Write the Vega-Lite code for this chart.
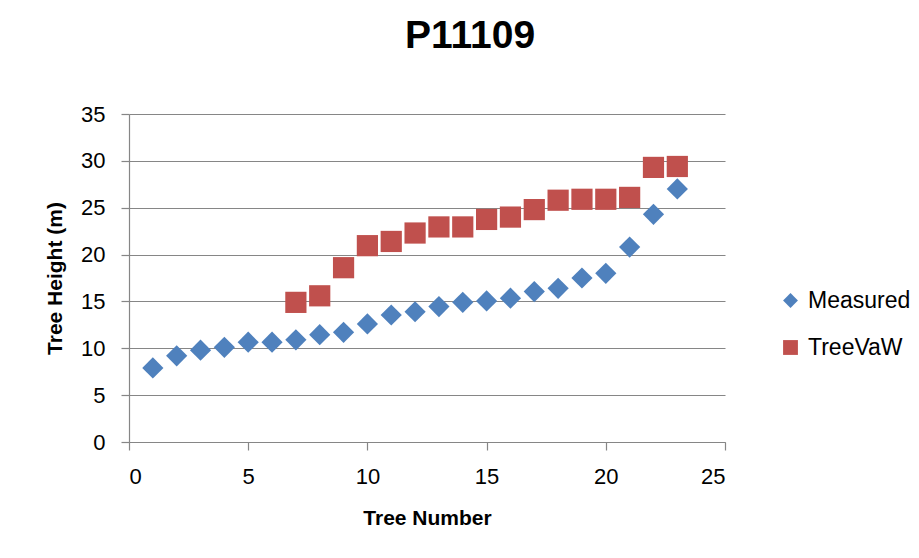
{
  "$schema": "https://vega.github.io/schema/vega-lite/v6.json",
  "width": 596,
  "height": 328,
  "autosize": {"type": "none"},
  "padding": {"left": 129, "top": 114, "right": 194, "bottom": 116},
  "background": "white",
  "title": {
    "text": "P11109",
    "font": "Liberation Sans",
    "fontSize": 39,
    "fontWeight": "bold",
    "color": "#000000",
    "anchor": "middle",
    "frame": "group",
    "offset": 47,
    "dx": 43
  },
  "data": {
    "values": [
      {"n": 1, "h": 7.9, "series": "Measured"},
      {"n": 2, "h": 9.2, "series": "Measured"},
      {"n": 3, "h": 9.8, "series": "Measured"},
      {"n": 4, "h": 10.1, "series": "Measured"},
      {"n": 5, "h": 10.65, "series": "Measured"},
      {"n": 6, "h": 10.65, "series": "Measured"},
      {"n": 7, "h": 10.9, "series": "Measured"},
      {"n": 8, "h": 11.45, "series": "Measured"},
      {"n": 9, "h": 11.7, "series": "Measured"},
      {"n": 10, "h": 12.6, "series": "Measured"},
      {"n": 11, "h": 13.55, "series": "Measured"},
      {"n": 12, "h": 13.9, "series": "Measured"},
      {"n": 13, "h": 14.45, "series": "Measured"},
      {"n": 14, "h": 14.9, "series": "Measured"},
      {"n": 15, "h": 15.05, "series": "Measured"},
      {"n": 16, "h": 15.35, "series": "Measured"},
      {"n": 17, "h": 16.05, "series": "Measured"},
      {"n": 18, "h": 16.4, "series": "Measured"},
      {"n": 19, "h": 17.5, "series": "Measured"},
      {"n": 20, "h": 18.0, "series": "Measured"},
      {"n": 21, "h": 20.8, "series": "Measured"},
      {"n": 22, "h": 24.3, "series": "Measured"},
      {"n": 23, "h": 27.0, "series": "Measured"},
      {"n": 7, "h": 14.9, "series": "TreeVaW"},
      {"n": 8, "h": 15.6, "series": "TreeVaW"},
      {"n": 9, "h": 18.6, "series": "TreeVaW"},
      {"n": 10, "h": 20.95, "series": "TreeVaW"},
      {"n": 11, "h": 21.4, "series": "TreeVaW"},
      {"n": 12, "h": 22.3, "series": "TreeVaW"},
      {"n": 13, "h": 22.95, "series": "TreeVaW"},
      {"n": 14, "h": 22.95, "series": "TreeVaW"},
      {"n": 15, "h": 23.75, "series": "TreeVaW"},
      {"n": 16, "h": 24.0, "series": "TreeVaW"},
      {"n": 17, "h": 24.8, "series": "TreeVaW"},
      {"n": 18, "h": 25.8, "series": "TreeVaW"},
      {"n": 19, "h": 25.9, "series": "TreeVaW"},
      {"n": 20, "h": 25.9, "series": "TreeVaW"},
      {"n": 21, "h": 26.1, "series": "TreeVaW"},
      {"n": 22, "h": 29.3, "series": "TreeVaW"},
      {"n": 23, "h": 29.4, "series": "TreeVaW"}
    ]
  },
  "mark": {"type": "point", "filled": true, "opacity": 1, "stroke": null, "size": 450},
  "encoding": {
    "x": {
      "field": "n",
      "type": "quantitative",
      "scale": {"domain": [0, 25], "nice": false, "zero": false},
      "axis": {
        "title": "Tree Number",
        "values": [0, 5, 10, 15, 20, 25],
        "grid": false,
        "labelPadding": 16,
        "titlePadding": 20
      }
    },
    "y": {
      "field": "h",
      "type": "quantitative",
      "scale": {"domain": [0, 35], "nice": false},
      "axis": {
        "title": "Tree Height (m)",
        "values": [0, 5, 10, 15, 20, 25, 30, 35],
        "grid": true,
        "labelPadding": 16,
        "titlePadding": 15
      }
    },
    "color": {
      "field": "series",
      "type": "nominal",
      "scale": {"domain": ["Measured", "TreeVaW"], "range": ["#4F81BD", "#C0504D"]},
      "legend": {"title": null}
    },
    "shape": {
      "field": "series",
      "type": "nominal",
      "scale": {"domain": ["Measured", "TreeVaW"], "range": ["diamond", "square"]},
      "legend": {"title": null}
    }
  },
  "config": {
    "view": {"stroke": null},
    "axis": {
      "labelFont": "Liberation Sans",
      "labelFontSize": 22,
      "labelColor": "#000000",
      "titleFont": "Liberation Sans",
      "titleFontSize": 21,
      "titleFontWeight": "bold",
      "titleColor": "#000000",
      "domainColor": "#868686",
      "domainWidth": 1.2,
      "tickColor": "#868686",
      "tickSize": 8,
      "tickWidth": 1.2,
      "gridColor": "#868686",
      "gridWidth": 1.2
    },
    "legend": {
      "orient": "none",
      "legendX": 650,
      "legendY": 175,
      "labelFont": "Liberation Sans",
      "labelFontSize": 23,
      "labelColor": "#000000",
      "symbolSize": 220,
      "symbolStrokeWidth": 0,
      "rowPadding": 23,
      "labelOffset": 6
    }
  }
}
